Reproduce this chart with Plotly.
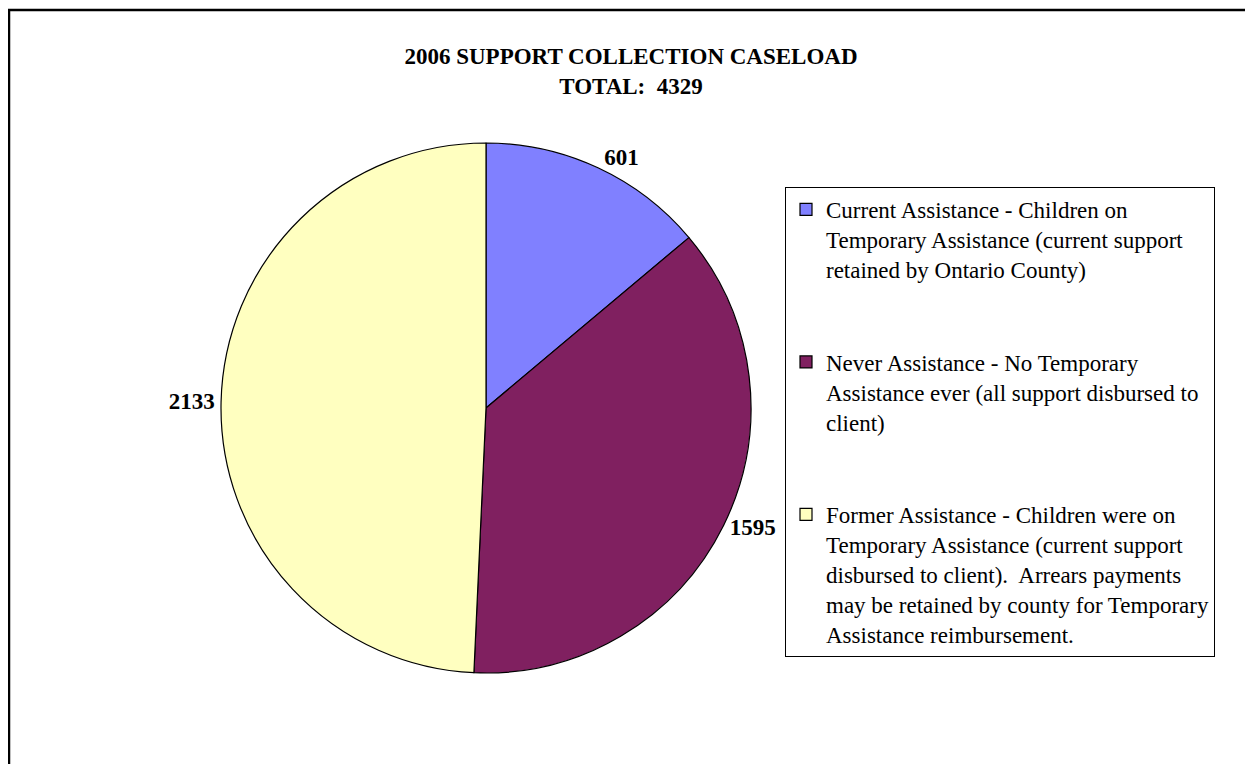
import plotly.graph_objects as go

# caseload counts
categories = [
    "Current Assistance - Children on<br>Temporary Assistance (current support<br>retained by Ontario County)",
    "Never Assistance - No Temporary<br>Assistance ever (all support disbursed to<br>client)",
    "Former Assistance - Children were on<br>Temporary Assistance (current support<br>disbursed to client).\u00a0 Arrears payments<br>may be retained by county for Temporary<br>Assistance reimbursement.",
]
cases = [601, 1595, 2133]
slice_colors = ["#8080FF", "#802060", "#FFFFC0"]

# blank lines so the legend entries are spread out like the original
pad = "<br>\u00a0<br>\u00a0"
legend_labels = [c + pad for c in categories[:2]] + [categories[2]]

W, H = 1253, 764
OFF = 8  # page body margin shifts the whole figure by 8px
font = "Liberation Serif, Times New Roman, serif"


def px_x(x):
    return (x - OFF) / W


def px_y(y):
    return 1 - (y - OFF) / H


fig = go.Figure(go.Pie(
    labels=legend_labels,
    values=cases,
    marker={"colors": slice_colors, "line": {"color": "black", "width": 1.2}},
    sort=False,
    direction="clockwise",
    rotation=0,
    textinfo="value",
    textposition="outside",
    textfont={"family": font, "size": 23, "color": "black", "weight": "bold"},
    domain={"x": [px_x(221), px_x(751)], "y": [px_y(673), px_y(143)]},
    hoverinfo="skip",
))

fig.update_layout(
    width=W, height=H,
    margin={"l": 0, "r": 0, "t": 0, "b": 0},
    paper_bgcolor="white",
    plot_bgcolor="white",
    title={
        "text": "<b>2006 SUPPORT COLLECTION CASELOAD<br>TOTAL:\u00a0 4329</b>",
        "x": px_x(631), "xanchor": "center",
        "y": px_y(64), "yanchor": "top",
        "font": {"family": font, "size": 23, "color": "black"},
    },
    legend={
        "x": px_x(785), "xanchor": "left",
        "y": px_y(187), "yanchor": "top",
        "bgcolor": "white",
        "bordercolor": "black",
        "borderwidth": 1,
        "valign": "top",
        "font": {"family": font, "size": 23, "color": "black"},
    },
    showlegend=True,
)

# outer frame of the chart area (runs off the right and bottom edges)
fig.add_shape(type="rect", xref="paper", yref="paper",
              x0=px_x(9), x1=1.02, y0=-0.02, y1=px_y(10),
              line={"color": "black", "width": 2.5})

fig.write_html("out.html")
